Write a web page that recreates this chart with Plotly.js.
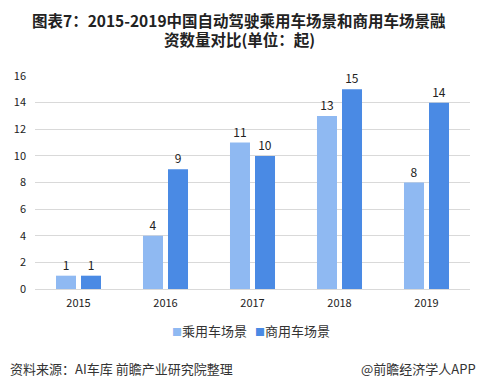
<!DOCTYPE html>
<html><head><meta charset="utf-8">
<script src="https://cdn.plot.ly/plotly-3.0.1.min.js"></script>
<style>html,body{margin:0;padding:0;background:#fff;}#chart{width:479px;height:388px;}</style>
</head><body><div id="chart"></div>
<script>
const years = ['2015', '2016', '2017', '2018', '2019'];
const passenger = [1, 4, 11, 13, 8];
const commercial = [1, 9, 10, 15, 14];
const seriesNames = ['乘用车场景', '商用车场景'];
const yTicks = [0, 2, 4, 6, 8, 10, 12, 14, 16];
const titleLines = ['图表7：2015-2019中国自动驾驶乘用车场景和商用车场景融', '资数量对比(单位：起)'];
const colors = ['#8FB9F2', '#4A8AE4'];
const font = '"Microsoft YaHei", "Noto Sans CJK SC", sans-serif';

function barTrace(vals, i) {
  return {
    type: 'bar', x: years, y: vals, name: seriesNames[i],
    marker: {color: colors[i]},
    text: vals.map(String), textposition: 'outside',
    textfont: {size: 12, color: '#222', family: font},
    cliponaxis: false, showlegend: false, hoverinfo: 'x+y'
  };
}

const data = [barTrace(passenger, 0), barTrace(commercial, 1)];

function ann(text, x, y, xanchor, size, extra) {
  return Object.assign({text: text, xref: 'paper', yref: 'paper', x: x, y: y,
    xanchor: xanchor, yanchor: 'middle', showarrow: false,
    font: {size: size, color: '#333', family: font}}, extra || {});
}
function legendText(i) {
  return '<span style="color:' + colors[i] + ';font-size:10px">■</span>' + seriesNames[i];
}
const titleFont = {size: 15.5, color: '#222', family: font};

const layout = {
  width: 479, height: 388,
  margin: {l: 35, r: 9, t: 76, b: 99},
  paper_bgcolor: '#fff', plot_bgcolor: '#fff',
  barmode: 'group', bargap: 0.425, bargroupgap: 0.2,
  showlegend: false,
  xaxis: {type: 'category', showgrid: false, zeroline: false, showline: true,
    linecolor: '#d9d9d9', linewidth: 1, ticks: '',
    tickfont: {size: 11, color: '#222', family: font}, ticklabelstandoff: 4},
  yaxis: {range: [0, 16], tickvals: yTicks, showgrid: true, gridcolor: '#d9d9d9',
    gridwidth: 1, zeroline: false, showline: false, ticks: '',
    tickfont: {size: 11, color: '#222', family: font}, ticklabelstandoff: 8},
  annotations: [
    ann('<b>' + titleLines[0] + '</b>', 0.47, 1.263, 'center', 15.5, {font: titleFont, borderpad: 0}),
    ann('<b>' + titleLines[1] + '</b>', 0.47, 1.174, 'center', 15.5, {font: titleFont, borderpad: 0}),
    ann(legendText(0), 0.31, -0.197, 'left', 13),
    ann(legendText(1), 0.502, -0.197, 'left', 13),
    ann('资料来源：AI车库 前瞻产业研究院整理', -0.062, -0.371, 'left', 13),
    ann('@前瞻经济学人APP', 1.018, -0.371, 'right', 13)
  ]
};

Plotly.newPlot('chart', data, layout, {displayModeBar: false, staticPlot: true});
</script></body></html>
